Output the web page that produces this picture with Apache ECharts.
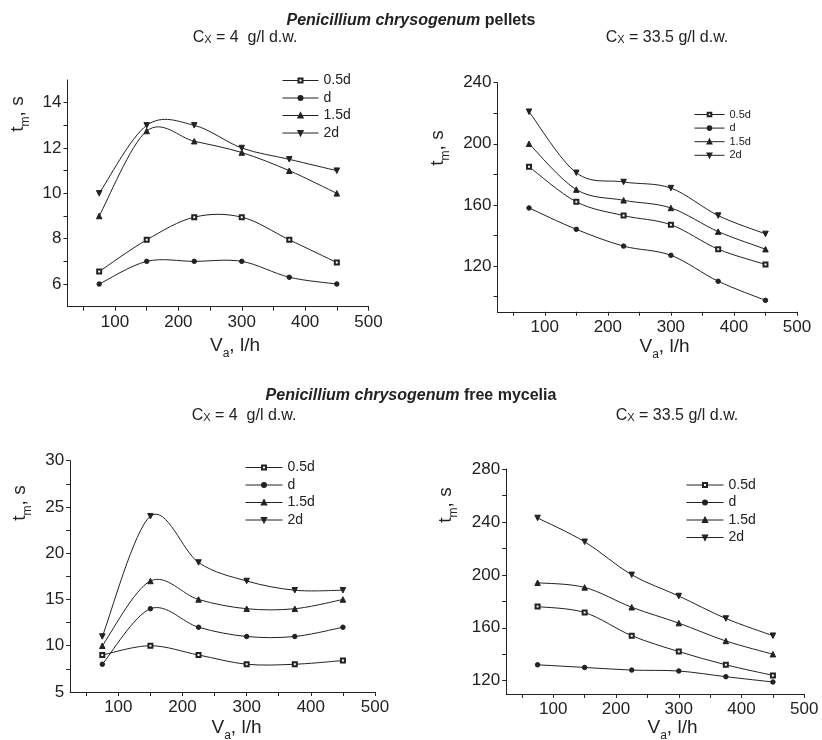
<!DOCTYPE html>
<html>
<head>
<meta charset="utf-8">
<script src="https://cdn.jsdelivr.net/npm/echarts@6/dist/echarts.min.js"></script>
<style>
  html, body { margin: 0; padding: 0; background: #fff; }
  #chart { width: 822px; height: 740px; }
</style>
</head>
<body>
<div id="chart"></div>
<script>
// air flow rate, l/h
var airFlow = [75, 150, 225, 300, 375, 450];
var names = ['0.5d', 'd', '1.5d', '2d'];

// pellets, Cx = 4 g/l
var pel4_05 = [6.55, 7.95, 8.95, 8.95, 7.95, 6.95];
var pel4_d  = [6, 7, 7, 7, 6.3, 6];
var pel4_15 = [9, 12.75, 12.3, 11.8, 11, 10];
var pel4_2  = [10, 13, 13, 12, 11.5, 11];

// pellets, Cx = 33.5 g/l
var pel33_05 = [185, 162, 153, 147, 131, 121];
var pel33_d  = [158, 144, 133, 127, 110, 97.5];
var pel33_15 = [200, 170, 163, 158, 142.5, 131];
var pel33_2  = [221, 181, 175, 171, 153, 141];

// free mycelia, Cx = 4 g/l
var myc4_05 = [9, 10, 9, 8, 8, 8.4];
var myc4_d  = [8, 14, 12, 11, 11, 12];
var myc4_15 = [10, 17, 15, 14, 14, 15];
var myc4_2  = [11, 24, 19, 17, 16, 16];

// free mycelia, Cx = 33.5 g/l
var myc33_05 = [176, 171.5, 154, 142, 132, 124];
var myc33_d  = [132, 130, 128, 127.3, 123, 119];
var myc33_15 = [194, 190.5, 175.5, 163.5, 150, 140];
var myc33_2  = [243, 225, 200, 184, 167, 154];

// ticks
var xTicks  = [50, 100, 150, 200, 250, 300, 350, 400, 450, 500];
var xLabels = [100, 200, 300, 400, 500];
var y1Ticks = [6, 7, 8, 9, 10, 11, 12, 13, 14];
var y1Labels = [6, 8, 10, 12, 14];
var y2Ticks = [100, 120, 140, 160, 180, 200, 220, 240];
var y2Labels = [120, 160, 200, 240];
var y3Ticks = [7.5, 10, 12.5, 15, 17.5, 20, 22.5, 25, 27.5, 30];
var y3Labels = [5, 10, 15, 20, 25, 30];
var y4Ticks = [120, 140, 160, 180, 200, 220, 240, 260, 280];
var y4Labels = [120, 160, 200, 240, 280];

var ink = '#222';
var font = 'Liberation Sans, Arial, sans-serif';

var grids = [
  { left: 67.5, top: 80, width: 301, height: 226.7 },
  { left: 497.5, top: 82.7, width: 299.5, height: 229.1 },
  { left: 70.2, top: 460.7, width: 304.8, height: 231.3 },
  { left: 506.2, top: 469, width: 298.1, height: 224.9 }
];
var yRanges = [[5, 15], [90, 240], [5, 30], [110, 280]];
var yTickSets = [[y1Ticks, y1Labels], [y2Ticks, y2Labels], [y3Ticks, y3Labels], [y4Ticks, y4Labels]];
var panelData = [
  [pel4_05, pel4_d, pel4_15, pel4_2],
  [pel33_05, pel33_d, pel33_15, pel33_2],
  [myc4_05, myc4_d, myc4_15, myc4_2],
  [myc33_05, myc33_d, myc33_15, myc33_2]
];

var axisLine = { show: true, lineStyle: { color: ink, width: 1 } };

var xAxes = grids.map(function (g, i) {
  return {
    type: 'value', gridIndex: i, min: 25, max: 500,
    axisLine: axisLine,
    axisTick: { show: true, length: 4, lineStyle: { color: ink }, customValues: xTicks },
    axisLabel: { color: ink, fontSize: 17, fontFamily: font, margin: 7, customValues: xLabels },
    splitLine: { show: false }
  };
});
var yAxes = grids.map(function (g, i) {
  return {
    type: 'value', gridIndex: i, min: yRanges[i][0], max: yRanges[i][1],
    axisLine: axisLine,
    axisTick: { show: true, length: 4, lineStyle: { color: ink }, customValues: yTickSets[i][0] },
    axisLabel: { color: ink, fontSize: 17, fontFamily: font, margin: 6, customValues: yTickSets[i][1] },
    splitLine: { show: false }
  };
});

var symbols = ['emptyRect', 'circle', 'triangle', 'triangle'];
var symbolSizes = [4, 4.5, 5.5, 5.5];
var rotates = [0, 0, 0, 180];

// spline segment from point i to i+1 (Catmull-Rom through the measured points)
function splineSegment(params, api) {
  var i = params.dataIndexInside;
  var n = params.dataInsideLength;
  if (i >= n - 1) return;
  function pt(k) {
    k = Math.max(0, Math.min(n - 1, k));
    return api.coord([api.value(0, k), api.value(1, k)]);
  }
  var p0 = pt(i - 1), p1 = pt(i), p2 = pt(i + 1), p3 = pt(i + 2);
  var c1 = [p1[0] + (p2[0] - p0[0]) / 6, p1[1] + (p2[1] - p0[1]) / 6];
  var c2 = [p2[0] - (p3[0] - p1[0]) / 6, p2[1] - (p3[1] - p1[1]) / 6];
  return {
    type: 'bezierCurve',
    shape: { x1: p1[0], y1: p1[1], cpx1: c1[0], cpy1: c1[1], cpx2: c2[0], cpy2: c2[1], x2: p2[0], y2: p2[1] },
    style: { stroke: ink, lineWidth: 1, fill: null },
    silent: true
  };
}

var series = [];
panelData.forEach(function (set, p) {
  set.forEach(function (vals, k) {
    var pts = airFlow.map(function (x, j) { return [x, vals[j]]; });
    series.push({
      name: names[k] + ' curve', type: 'custom', xAxisIndex: p, yAxisIndex: p,
      data: pts, renderItem: splineSegment, z: 1, clip: false,
      encode: { x: 0, y: 1 }
    });
    series.push({
      name: names[k], type: 'line', xAxisIndex: p, yAxisIndex: p,
      data: pts, z: 2,
      symbol: symbols[k], symbolSize: symbolSizes[k], symbolRotate: rotates[k],
      showAllSymbol: true,
      lineStyle: { color: ink, width: 1, opacity: 0 },
      itemStyle: { color: ink, borderColor: ink, borderWidth: 1 },
      emphasis: { disabled: true }
    });
  });
});

function legendAt(left, top, fontSize, itemWidth, itemHeight, gap) {
  return {
    orient: 'vertical', left: left, top: top, padding: 0,
    itemWidth: itemWidth, itemHeight: itemHeight, itemGap: gap,
    selectedMode: false, data: names,
    lineStyle: { color: ink, width: 1, opacity: 1 },
    textStyle: { color: ink, fontSize: fontSize, lineHeight: fontSize, fontFamily: font }
  };
}

// rich text with a subscript: main part, subscript, rest
function subRich(main, sub, rest, size, subSize, drop) {
  return {
    text: '{m|' + main + '}{s|' + sub + '}{m|' + rest + '}',
    rich: {
      m: { fontSize: size, lineHeight: size, verticalAlign: 'top', fontFamily: font, fill: ink },
      s: { fontSize: subSize, lineHeight: subSize, verticalAlign: 'top', padding: [drop, 0, 0, 0], fontFamily: font, fill: ink }
    },
    fill: ink, fontSize: size, fontFamily: font
  };
}

function label(x, y, parts, rotated) {
  var st = subRich(parts[0], parts[1], parts[2], parts[3], parts[4], parts[5]);
  st.align = 'center';
  st.verticalAlign = 'top';
  st.x = 0; st.y = 0;
  return { type: 'text', x: x, y: y, rotation: rotated ? Math.PI / 2 : 0, style: st, silent: true };
}

function title(y, rest) {
  return {
    type: 'text', x: 411, y: y, silent: true,
    style: {
      text: '{bi|Penicillium chrysogenum}{b|' + rest + '}',
      align: 'center', verticalAlign: 'middle',
      rich: {
        bi: { fontSize: 16, fontWeight: 'bold', fontStyle: 'italic', fontFamily: font, fill: ink },
        b: { fontSize: 16, fontWeight: 'bold', fontFamily: font, fill: ink }
      }
    }
  };
}

var cx4 = ['C', 'X', ' = 4  g/l d.w.', 16, 11, 5];
var cx33 = ['C', 'X', ' = 33.5 g/l d.w.', 16, 11, 5];
var va = ['V', 'a', ', l/h', 19, 12, 11.5];
var tm = ['t', 'm', ', s', 19, 12, 11.5];

var graphics = [
  title(21, ' pellets'),
  title(396, ' free mycelia'),
  label(245, 29.5, cx4),
  label(667, 29.5, cx33),
  label(244, 407.5, cx4),
  label(677, 407.5, cx33),
  label(235, 336.5, va),
  label(664.5, 337, va),
  label(236.5, 718.5, va),
  label(672.5, 718.5, va),
  label(8, 114, tm, true),
  label(428, 148, tm, true),
  label(10.5, 503, tm, true),
  label(436.5, 505, tm, true)
];

var chart = echarts.init(document.getElementById('chart'));
chart.setOption({
  backgroundColor: '#fff',
  animation: false,
  grid: grids.map(function (g) {
    return { left: g.left, top: g.top, width: g.width, height: g.height, outerBoundsMode: 'none' };
  }),
  xAxis: xAxes,
  yAxis: yAxes,
  legend: [
    legendAt(282, 73.5, 14, 36, 5, 3.5),
    legendAt(694, 109, 11, 30, 4.5, 2.6),
    legendAt(245, 460.5, 14, 37, 5, 3.5),
    legendAt(686, 478, 14, 37, 5, 3.5)
  ],
  series: series,
  graphic: graphics
});
</script>
</body>
</html>
